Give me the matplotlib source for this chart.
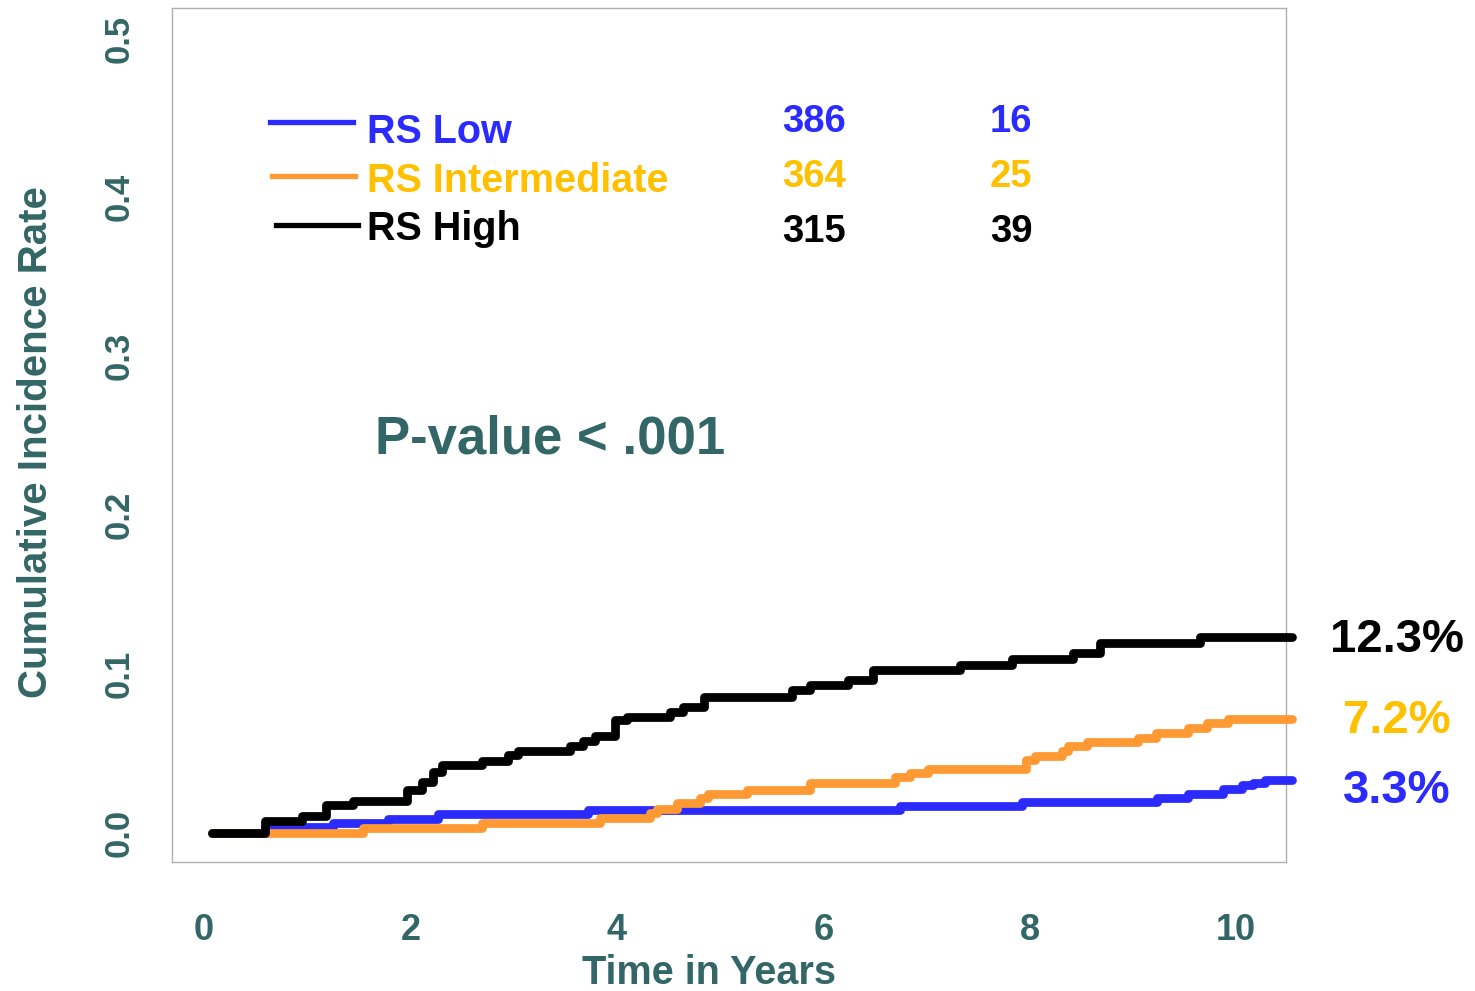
import matplotlib
matplotlib.use("Agg")
import matplotlib.pyplot as plt
from matplotlib.lines import Line2D

# ---- data -------------------------------------------------------------
groups = ["RS Low", "RS Intermediate", "RS High"]
n_patients = [386, 364, 315]
n_events = [16, 25, 39]

# step times (years) and cumulative incidence after each step
low_t = [0.08, 0.59, 1.25, 1.78, 2.27, 3.72, 6.74, 7.93, 9.23, 9.53, 9.87, 10.06, 10.16, 10.28]
low_y = [0.0, 0.004, 0.006, 0.009, 0.012, 0.0145, 0.017, 0.0195, 0.022, 0.0245, 0.0275, 0.030, 0.0315, 0.033]

int_t = [0.08, 1.54, 2.69, 3.84, 4.32, 4.39, 4.58, 4.81, 4.88, 5.26, 5.87, 6.70, 6.84,
         7.02, 7.96, 8.05, 8.31, 8.37, 8.56, 9.05, 9.22, 9.53, 9.72, 9.92]
int_y = [0.0, 0.0033, 0.0065, 0.0096, 0.0126, 0.0151, 0.0189, 0.022, 0.0245, 0.027, 0.0315,
         0.0352, 0.0377, 0.0403, 0.0459, 0.0485, 0.0516, 0.0548, 0.0573, 0.0598, 0.0629,
         0.0661, 0.0692, 0.072]

high_t = [0.08, 0.59, 0.95, 1.18, 1.44, 1.97, 2.11, 2.22, 2.31, 2.69, 2.95, 3.04, 3.55, 3.67,
          3.79, 3.98, 4.10, 4.52, 4.64, 4.84, 5.70, 5.87, 6.24, 6.48, 7.33, 7.83, 8.42, 8.68, 9.65]
high_y = [0.0, 0.0076, 0.0107, 0.0176, 0.0201, 0.0271, 0.0321, 0.0384, 0.0428, 0.0453, 0.0491,
          0.0516, 0.0548, 0.0579, 0.061, 0.0711, 0.073, 0.0761, 0.0793, 0.0856, 0.090, 0.0931,
          0.0963, 0.1026, 0.1057, 0.1095, 0.1133, 0.1196, 0.123]

t_end = 10.54
x_ticks = [0, 2, 4, 6, 8, 10]
y_ticks = [0.0, 0.1, 0.2, 0.3, 0.4, 0.5]

# ---- style ------------------------------------------------------------
teal = "#336666"
blue = "#2b2bff"
orange_line = "#ff9933"
amber = "#ffc000"
line_colors = [blue, orange_line, "black"]
text_colors = [blue, amber, "black"]
end_label_shift = [-11, -2, -3]   # vertical nudge (px) of the end-of-curve percentages

font = ["Liberation Sans", "DejaVu Sans"]

W, H = 1475, 991
fig = plt.figure(figsize=(W / 100, H / 100), dpi=100)
ax = fig.add_axes([172 / W, 1 - 862 / H, (1286 - 172) / W, (862 - 8) / H])

series = [(low_t, low_y), (int_t, int_y), (high_t, high_y)]
for (t, y), c in zip(series, line_colors):
    ax.plot(list(t) + [t_end], list(y) + [y[-1]], drawstyle="steps-post",
            color=c, lw=6.3, solid_joinstyle="round", solid_capstyle="round",
            clip_on=False, zorder=3)

ax.set_xlim(-0.31, 10.484)
ax.set_ylim(-0.0183, 0.5192)
ax.set_xticks(x_ticks)
ax.set_xticklabels([str(v) for v in x_ticks])
ax.set_yticks(y_ticks)
ax.set_yticklabels([f"{v:.1f}" for v in y_ticks])
ax.tick_params(axis="both", length=0, colors=teal)
ax.tick_params(axis="x", pad=36.5)
ax.tick_params(axis="y", pad=26)
for lab in ax.get_xticklabels():
    lab.set_fontfamily(font)
    lab.set_fontweight("bold")
    lab.set_fontsize(26)
for lab in ax.get_yticklabels():
    lab.set_fontfamily(font)
    lab.set_fontweight("bold")
    lab.set_fontsize(25)
    lab.set_rotation(90)
    lab.set_va("center")

for sp in ax.spines.values():
    sp.set_color("#b0b0b0")
    sp.set_linewidth(1.0)

ax.set_xlabel("Time in Years", fontsize=28.5, fontweight="bold", color=teal, family=font)
ax.set_ylabel("Cumulative Incidence Rate", fontsize=29, fontweight="bold", color=teal, family=font)
ax.xaxis.set_label_coords((709 - 172) / 1114, (862 - 973) / 854)
ax.yaxis.set_label_coords((36 - 172) / 1114, (862 - 442) / 854)
ax.xaxis.label.set_va("center")
ax.yaxis.label.set_va("center")

# legend rows with counts
def fx(px):
    return px / W

def fy(py):
    return 1 - py / H

leg_rows = [(122, 270, 353), (176, 272, 355), (225, 276, 358)]
text_rows = [132, 181, 229]
num_rows = [122, 177, 232]
for i in range(3):
    yl, x0, x1 = leg_rows[i]
    fig.add_artist(Line2D([fx(x0), fx(x1)], [fy(yl), fy(yl)], color=line_colors[i], lw=3.8,
                          transform=fig.transFigure))
    fig.text(fx(367), fy(text_rows[i]), groups[i], color=text_colors[i], fontsize=28.5,
             fontweight="bold", family=font, ha="left", va="center")
    fig.text(fx(814), fy(num_rows[i]), str(n_patients[i]), color=text_colors[i], fontsize=27.5,
             fontweight="bold", family=font, ha="center", va="center")
    fig.text(fx(1011), fy(num_rows[i]), str(n_events[i]), color=text_colors[i], fontsize=27.5,
             fontweight="bold", family=font, ha="center", va="center")

ax.text(0.182, 0.4943, "P-value < .001", transform=ax.transAxes, color=teal, fontsize=38,
        fontweight="bold", family=font, ha="left", va="center")

# final cumulative incidence beside each curve
for (t, y), c, dy in zip(series, text_colors, end_label_shift):
    ax.annotate(f"{y[-1] * 100:.1f}%", xy=(11.56, y[-1]), xytext=(0, dy * 0.72),
                textcoords="offset points", color=c, fontsize=34, fontweight="bold",
                family=font, ha="center", va="center", annotation_clip=False)

fig.savefig("out.png", dpi=100)
